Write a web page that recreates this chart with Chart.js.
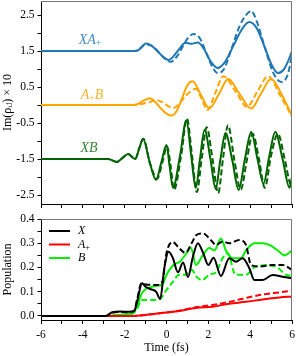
<!DOCTYPE html>
<html><head><meta charset="utf-8">
<script src="https://cdn.jsdelivr.net/npm/chart.js@4/dist/chart.umd.min.js"></script>
<style>
html,body{margin:0;padding:0;background:#fff;}
#wrap{position:relative;width:296px;height:356px;overflow:hidden;}
canvas{position:absolute;left:0;}
#c1{top:0}
#c2{top:212px}
</style></head><body>
<div id="wrap"><canvas id="c1" width="296" height="210"></canvas><canvas id="c2" width="296" height="144"></canvas></div>
<script>
// ---------- DATA ----------
// Upper panel: Im(rho_ij) x 10 (offset curves)
const xaSolidT = [-6,-1.6,-1.4,-1.2,-1.0,-0.8,-0.5,-0.2,0.1,0.3,0.6,0.9,1.2,1.5,1.8,2.1,2.45,2.8,3.2,3.6,3.95,4.3,4.7,5.0,5.33,5.6,5.8,6.0];
const xaSolidV = [1.5,1.5,1.51,1.6,1.71,1.68,1.54,1.36,1.25,1.33,1.55,1.73,1.70,1.74,1.55,1.22,1.03,1.2,1.65,2.1,2.31,2.15,1.6,1.15,0.89,0.98,1.2,1.5];
const xaDashT = [-6,-1.6,-1.3,-1.0,-0.7,-0.4,-0.1,0.2,0.5,0.8,1.05,1.3,1.6,1.9,2.2,2.45,2.75,3.1,3.5,3.8,4.05,4.3,4.7,5.1,5.5,5.8,6.0];
const xaDashV = [1.5,1.5,1.56,1.68,1.64,1.48,1.30,1.20,1.35,1.65,1.88,1.97,1.85,1.45,1.05,0.89,1.0,1.55,2.2,2.5,2.61,2.35,1.6,0.9,0.64,0.85,1.39];

const abSolidT = [-6,-1.6,-1.4,-1.1,-0.8,-0.5,-0.2,0.05,0.25,0.5,0.75,1.0,1.25,1.65,2.05,2.5,2.95,3.5,4.05,4.5,5.0,5.5,6.0];
const abSolidV = [0,0,0.02,0.12,0.19,0.06,-0.14,-0.26,-0.29,-0.15,0.2,0.55,0.66,0.28,-0.09,0.3,0.72,0.3,-0.1,0.3,0.72,0.3,-0.3];
const abDashT = [-6,-1.6,-1.2,-0.8,-0.5,-0.2,0.1,0.35,0.7,1.0,1.4,1.7,1.95,2.33,2.72,3.3,3.85,4.35,4.85,5.45,6.0];
const abDashV = [0,0,0.03,0.08,0.14,0.08,-0.04,-0.08,0.1,0.3,0.45,0.15,-0.14,0.33,0.8,0.38,-0.05,0.38,0.8,0.25,-0.32];

const xbSolidT = [-6,-2.8,-2.37,-2.1,-1.84,-1.5,-1.3,-1.12,-0.8,-0.5,-0.25,0.0,0.15,0.31,0.65,0.95,1.18,1.4,1.6,1.82,2.1,2.35,2.58,2.82,3.15,3.45,3.75,4.05,4.35,4.64,4.92,5.2,5.55,5.88,6.0];
const xbSolidV = [-1.5,-1.5,-1.58,-1.47,-1.36,-1.5,-1.2,-0.94,-1.6,-2.08,-1.6,-1.11,-1.7,-2.3,-1.4,-0.42,-1.4,-2.3,-1.5,-0.69,-1.5,-2.33,-1.5,-0.78,-1.55,-2.36,-1.5,-0.75,-1.5,-2.18,-1.4,-0.75,-1.5,-2.3,-2.0];
const xbDashT = [-6,-2.8,-2.37,-2.1,-1.84,-1.5,-1.3,-1.1,-0.8,-0.45,-0.2,0.03,0.2,0.36,0.7,0.98,1.22,1.45,1.68,1.92,2.2,2.47,2.7,2.94,3.25,3.55,3.85,4.12,4.42,4.7,5.0,5.33,5.65,5.95,6.0];
const xbDashV = [-1.5,-1.5,-1.58,-1.47,-1.36,-1.5,-1.2,-0.94,-1.6,-2.05,-1.6,-1.15,-1.7,-2.35,-1.4,-0.38,-1.4,-2.42,-1.5,-0.62,-1.5,-2.45,-1.5,-0.56,-1.55,-2.35,-1.5,-0.8,-1.5,-2.3,-1.4,-0.8,-1.5,-2.2,-2.1];

// Lower panel: populations
const popXSolidT = [-6,-2.9,-2.6,-2.2,-1.8,-1.55,-1.4,-1.17,-1.0,-0.75,-0.5,-0.3,-0.1,0.1,0.3,0.55,0.79,1.03,1.25,1.5,1.75,2.0,2.25,2.6,3.0,3.32,3.64,3.96,4.2,4.6,5.07,5.55,6.0];
const popXSolidV = [0,0,0.015,0.018,0.017,0.02,0.06,0.135,0.12,0.11,0.1,0.07,0.2,0.265,0.24,0.18,0.22,0.16,0.24,0.30,0.26,0.21,0.24,0.165,0.238,0.224,0.238,0.197,0.148,0.148,0.169,0.162,0.155];
const popXDashT = [-6,-2.9,-2.6,-2.2,-1.8,-1.55,-1.4,-1.2,-1.0,-0.7,-0.4,-0.2,0.0,0.3,0.6,0.9,1.2,1.45,1.75,2.05,2.37,2.68,3.0,3.48,3.8,4.04,4.44,5.07,5.55,6.0];
const popXDashV = [0,0,0.012,0.016,0.015,0.02,0.07,0.135,0.13,0.128,0.128,0.14,0.26,0.305,0.28,0.26,0.30,0.335,0.34,0.32,0.293,0.307,0.30,0.313,0.293,0.21,0.204,0.21,0.21,0.19];
const popASolidT = [-6,-1.6,-1.0,0.0,0.6,1.4,2.2,3.0,3.8,4.6,5.4,6.0];
const popASolidV = [0,0,0.004,0.014,0.02,0.033,0.038,0.05,0.058,0.068,0.076,0.08];
const popADashT = [-6,-1.6,-1.0,0.0,0.6,1.4,2.2,3.0,3.8,4.6,5.4,6.0];
const popADashV = [0,0,0.004,0.014,0.021,0.036,0.045,0.058,0.074,0.088,0.097,0.104];
const popBSolidT = [-6,-2.9,-2.5,-2.0,-1.6,-1.4,-1.2,-1.0,-0.7,-0.4,-0.2,0.0,0.33,0.65,0.97,1.17,1.41,1.73,2.05,2.29,2.6,2.84,3.16,3.56,3.8,4.2,4.6,4.92,5.32,5.64,6.0];
const popBSolidV = [0,0,0.003,0.006,0.012,0.04,0.09,0.11,0.12,0.125,0.13,0.17,0.21,0.225,0.26,0.28,0.21,0.25,0.28,0.27,0.32,0.27,0.238,0.238,0.27,0.30,0.30,0.293,0.27,0.25,0.27];
const popBDashT = [-6,-2.9,-2.0,-1.6,-1.4,-1.2,-0.9,-0.6,-0.3,0.0,0.3,0.6,0.9,1.2,1.45,1.7,2.05,2.37,2.68,2.92,3.3,3.8,4.2,4.8,5.3,5.7,6.0];
const popBDashV = [0,0,0.004,0.01,0.03,0.065,0.066,0.066,0.07,0.107,0.14,0.17,0.17,0.19,0.16,0.148,0.17,0.18,0.238,0.26,0.17,0.17,0.2,0.21,0.2,0.17,0.165];

// Ticks
const xTicks = [-6,-5,-4,-3,-2,-1,0,1,2,3,4,5,6];
const xTickLabels = [-6,-4,-2,0,2,4,6];
const yTicksTop = [-2.5,-2,-1.5,-1,-0.5,0,0.5,1,1.5,2,2.5];
const yTickLabelsTop = [-2.5,-1.5,-0.5,0.5,1.5,2.5];
const yTicksBottom = [0,0.05,0.1,0.15,0.2,0.25,0.3,0.35,0.4];
const yTickLabelsBottom = [0,0.1,0.2,0.3,0.4];

// ---------- STYLE ----------
const FONT = "'Liberation Serif','DejaVu Serif',serif";
Chart.defaults.font.family = FONT;
Chart.defaults.font.size = 11.5;
Chart.defaults.color = '#000';
const C_BLUE = '#1f77b4', C_ORANGE = '#ffa500', C_DGREEN = '#006400';
const C_BLACK = '#000000', C_RED = '#ff0000', C_LIME = '#00ee00';
const DASH = [6, 3];

const pts = (t, v) => t.map((x, i) => ({x: x, y: v[i]}));
const has = (arr, v) => arr.some(a => Math.abs(a - v) < 1e-9);
function line(label, t, v, color, dashed, w) {
  return {label, data: pts(t, v), borderColor: color, backgroundColor: color,
    borderWidth: w || 2, borderDash: dashed ? DASH : [], pointRadius: 0,
    cubicInterpolationMode: 'monotone', fill: false};
}

function drawParts(ctx, parts, cx, cy, size, color, align) {
  ctx.save();
  ctx.fillStyle = color;
  ctx.textBaseline = 'middle';
  const fMain = 'italic ' + size + 'px ' + FONT;
  const fSub = (size * 0.7).toFixed(1) + 'px ' + FONT;
  let total = 0;
  const widths = parts.map(p => { ctx.font = p[1] ? fSub : fMain; const w = ctx.measureText(p[0]).width; total += w; return w; });
  let x = align === 'left' ? cx : cx - total / 2;
  parts.forEach((p, i) => {
    ctx.font = p[1] ? fSub : fMain;
    ctx.fillText(p[0], x, p[1] ? cy + size * 0.25 : cy);
    x += widths[i];
  });
  ctx.restore();
}

const framePlugin = {
  id: 'frame',
  afterDraw(chart) {
    const {ctx, chartArea: a} = chart;
    ctx.save();
    ctx.lineWidth = 1;
    ctx.strokeStyle = '#777';
    ctx.beginPath();
    ctx.moveTo(a.left, a.top + 0.5);
    ctx.lineTo(a.right - 0.5, a.top + 0.5);
    ctx.lineTo(a.right - 0.5, a.bottom);
    ctx.stroke();
    ctx.restore();
  }
};

const curveLabelPlugin = {
  id: 'curveLabels',
  afterDatasetsDraw(chart, args, opts) {
    if (!opts.items) return;
    const sx = chart.scales.x, sy = chart.scales.y;
    opts.items.forEach(it => drawParts(chart.ctx, it.parts, sx.getPixelForValue(it.x), sy.getPixelForValue(it.y), opts.size, it.color, 'center'));
  }
};

const miniLegendPlugin = {
  id: 'miniLegend',
  afterDatasetsDraw(chart, args, opts) {
    if (!opts.items) return;
    const {ctx, chartArea: a} = chart;
    opts.items.forEach((it, i) => {
      const ds = chart.data.datasets[it.dataset];
      const y = a.top + opts.top + i * opts.gap;
      ctx.save();
      ctx.strokeStyle = ds.borderColor;
      ctx.lineWidth = ds.borderWidth;
      ctx.beginPath();
      ctx.moveTo(a.left + opts.x0, y);
      ctx.lineTo(a.left + opts.x1, y);
      ctx.stroke();
      ctx.restore();
      drawParts(ctx, it.parts, a.left + opts.tx, y, opts.size, '#000', 'left');
    });
  }
};

function xScale(showLabels, h, title) {
  return {
    type: 'linear', min: -6, max: 6,
    afterBuildTicks: ax => { ax.ticks = xTicks.map(v => ({value: v})); },
    ticks: {display: showLabels, padding: 4.5, maxRotation: 0, autoSkip: false,
      callback: v => has(xTickLabels, v) ? String(v) : ''},
    grid: {drawOnChartArea: false, drawTicks: true, tickLength: 4, color: '#000'},
    border: {display: true, color: '#000', width: 1},
    title: title ? {display: true, text: title, font: {size: 12}, padding: {top: 0, bottom: 0.5}} : {display: false},
    afterFit: ax => { ax.height = h; ax.paddingLeft = 0; ax.paddingRight = 0; }
  };
}
function yScale(min, max, ticks, labels, fmt, title) {
  return {
    type: 'linear', min, max,
    afterBuildTicks: ax => { ax.ticks = ticks.map(v => ({value: v})); },
    ticks: {padding: 3, autoSkip: false, callback: v => has(labels, v) ? fmt(v) : ''},
    grid: {drawOnChartArea: false, drawTicks: true, tickLength: 3.5, color: '#000'},
    border: {display: true, color: '#000', width: 1},
    title: {display: true, text: title, font: {size: 12}, padding: {top: 1, bottom: 0}},
    afterFit: ax => { ax.width = 41; ax.paddingTop = 0; ax.paddingBottom = 0; }
  };
}

// ---------- TOP CHART ----------
new Chart(document.getElementById('c1'), {
  type: 'line',
  data: {datasets: [
    line('XA+ solid', xaSolidT, xaSolidV, C_BLUE, false),
    line('XA+ dashed', xaDashT, xaDashV, C_BLUE, true),
    line('A+B solid', abSolidT, abSolidV, C_ORANGE, false),
    line('A+B dashed', abDashT, abDashV, C_ORANGE, true),
    line('XB solid', xbSolidT, xbSolidV, C_DGREEN, false),
    line('XB dashed', xbDashT, xbDashV, C_DGREEN, true)
  ]},
  options: {
    responsive: false, animation: false, devicePixelRatio: 1,
    layout: {padding: {left: 0, right: 4, top: 1, bottom: 0}},
    scales: {
      x: xScale(false, 6, null),
      y: yScale(-2.75, 2.89, yTicksTop, yTickLabelsTop, v => v.toFixed(1), 'Im(ρᵢⱼ) × 10')
    },
    plugins: {
      legend: {display: false}, tooltip: {enabled: false},
      curveLabels: {size: 14, items: [
        {parts: [['X', 0], ['A', 0], ['+', 1]], x: -3.66, y: 1.81, color: 'rgba(31,119,180,0.85)'},
        {parts: [['A', 0], ['+', 1], ['B', 0]], x: -3.56, y: 0.28, color: 'rgba(255,165,0,0.85)'},
        {parts: [['X', 0], ['B', 0]], x: -3.7, y: -1.19, color: 'rgba(0,100,0,0.8)'}
      ]}
    }
  },
  plugins: [framePlugin, curveLabelPlugin]
});

// ---------- BOTTOM CHART ----------
new Chart(document.getElementById('c2'), {
  type: 'line',
  data: {datasets: [
    line('X', popXSolidT, popXSolidV, C_BLACK, false),
    line('X dashed', popXDashT, popXDashV, C_BLACK, true),
    line('A+', popASolidT, popASolidV, C_RED, false),
    line('A+ dashed', popADashT, popADashV, C_RED, true),
    line('B', popBSolidT, popBSolidV, C_LIME, false),
    line('B dashed', popBDashT, popBDashV, C_LIME, true)
  ]},
  options: {
    responsive: false, animation: false, devicePixelRatio: 1,
    layout: {padding: {left: 0, right: 4, top: 7, bottom: 0}},
    scales: {
      x: xScale(true, 36, 'Time (fs)'),
      y: yScale(-0.017, 0.4, yTicksBottom, yTickLabelsBottom, v => v.toFixed(1), 'Population')
    },
    plugins: {
      legend: {display: false}, tooltip: {enabled: false},
      miniLegend: {top: 12, gap: 13.5, x0: 8, x1: 29, tx: 37, size: 12, items: [
        {dataset: 0, parts: [['X', 0]]},
        {dataset: 2, parts: [['A', 0], ['+', 1]]},
        {dataset: 4, parts: [['B', 0]]}
      ]}
    }
  },
  plugins: [framePlugin, miniLegendPlugin]
});
</script>
</body></html>
